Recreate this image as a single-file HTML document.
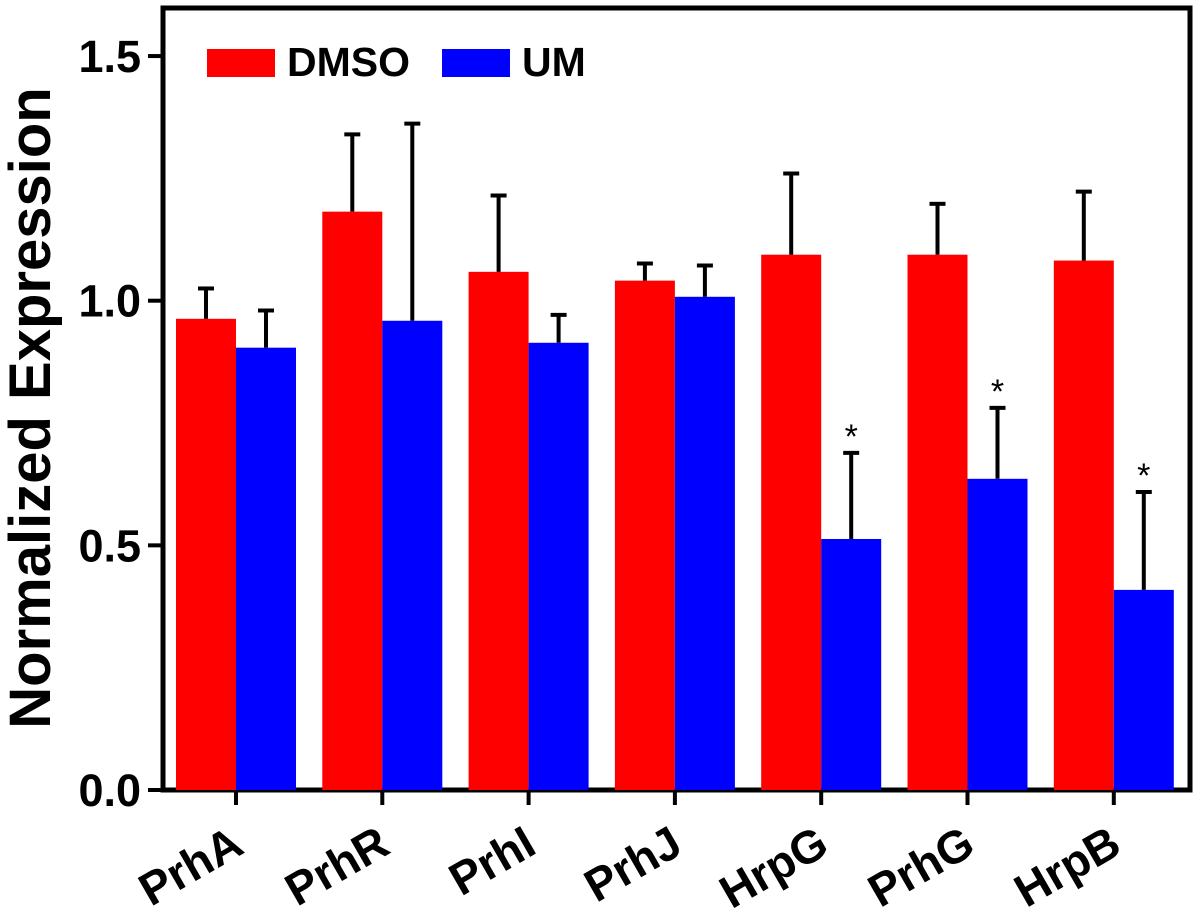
<!DOCTYPE html>
<html><head><meta charset="utf-8"><style>
html,body{margin:0;padding:0;background:#fff;}
svg{display:block;font-family:"Liberation Sans",Arial,sans-serif;font-weight:bold;}
</style></head><body>
<svg id="chart" width="1197" height="923" viewBox="0 0 1197 923">
<rect x="163" y="8" width="1027" height="782" fill="none" stroke="#000" stroke-width="5"/>
<g id="bars"></g>
<g id="axes"></g>
<text transform="translate(50,408) rotate(-90)" text-anchor="middle" font-size="58">Normalized Expression</text>
<g>
<rect x="207" y="49" width="68" height="28" fill="#ff0000"/>
<text x="287" y="76" font-size="41">DMSO</text>
<rect x="442" y="49" width="68" height="28" fill="#0000ff"/>
<text x="522" y="76" font-size="41">UM</text>
</g>
</svg>
<script>
const categories=["PrhA","PrhR","PrhI","PrhJ","HrpG","PrhG","HrpB"];
const dmso=[0.963,1.182,1.059,1.041,1.094,1.094,1.082];
const dmsoErr=[0.062,0.158,0.156,0.035,0.166,0.104,0.141];
const um=[0.904,0.959,0.914,1.008,0.513,0.636,0.409];
const umErr=[0.076,0.403,0.057,0.064,0.176,0.145,0.200];
const sig=[false,false,false,false,true,true,true];
const yTicks=[0,0.5,1.0,1.5];
const yTickLabels=["0.0","0.5","1.0","1.5"];
const NS="http://www.w3.org/2000/svg";
const y0=790,pxPer=489.3;
function yScale(v){return y0-v*pxPer;}
function xCenter(i){return 236+i*146.3;}
const barW=60;
const bars=document.getElementById('bars'),axes=document.getElementById('axes');
function mk(tag,attrs,parent){const e=document.createElementNS(NS,tag);for(const k in attrs)e.setAttribute(k,attrs[k]);parent.appendChild(e);return e;}
function drawBar(x,v,err,color,name){
  const r=mk('rect',{x:x,y:yScale(v),width:barW,height:y0-yScale(v),fill:color},bars);
  
  
  const cx=x+barW/2;
  const l=mk('line',{x1:cx,x2:cx,y1:yScale(v),y2:yScale(v+err),stroke:'#000','stroke-width':4},bars);
  
  
  const c=mk('line',{x1:cx-8,x2:cx+8,y1:yScale(v+err),y2:yScale(v+err),stroke:'#000','stroke-width':4},bars);
  
  
}
categories.forEach((c,i)=>{
  const cx=xCenter(i);
  drawBar(cx-barW,dmso[i],dmsoErr[i],'#ff0000','bar-dmso-'+c.toLowerCase());
  drawBar(cx,um[i],umErr[i],'#0000ff','bar-um-'+c.toLowerCase());
  if(sig[i]){
    const t=mk('text',{x:cx+barW/2,y:yScale(um[i]+umErr[i])-5,'text-anchor':'middle','font-size':34,'font-weight':'normal'},bars);
    t.textContent='*';
    
    
  }
  const tk=mk('line',{x1:cx,x2:cx,y1:y0,y2:y0+15,stroke:'#000','stroke-width':4},axes);
  
  
  const lb=mk('text',{transform:`translate(${cx+10},${y0+62}) rotate(-30)`,'text-anchor':'end','font-size':46},axes);
  lb.textContent=c;
  
  
});
yTicks.forEach((v,i)=>{
  const y=yScale(v);
  const tk=mk('line',{x1:148,x2:163,y1:y,y2:y,stroke:'#000','stroke-width':4},axes);
  
  
  const t=mk('text',{x:141,y:y+16,'text-anchor':'end','font-size':45},axes);
  t.textContent=yTickLabels[i];
  
  
});
</script>
</body></html>
